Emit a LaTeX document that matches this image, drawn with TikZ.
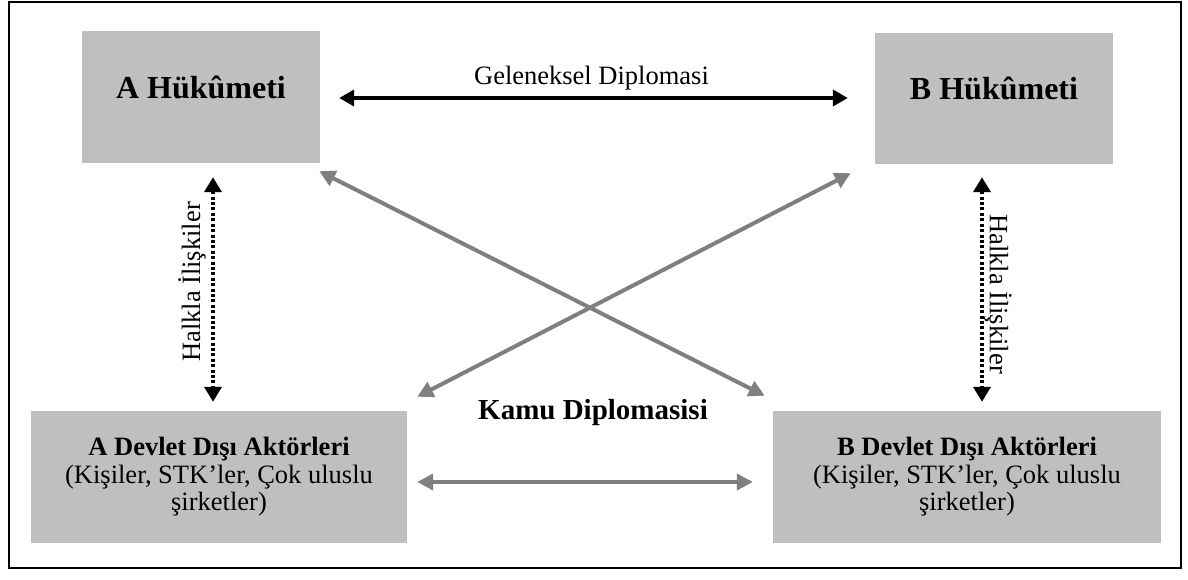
\documentclass[tikz,border=0pt]{standalone}
\usepackage{fontspec}
\setmainfont{Liberation Serif}
\usetikzlibrary{arrows.meta}
\definecolor{kutugri}{HTML}{BFBFBF}
\definecolor{okgri}{HTML}{7F7F7F}

\begin{document}
\begin{tikzpicture}[x=1pt,y=-1pt,
    kutu/.style={fill=kutugri,inner sep=0pt,align=center},
    yazi/.style={font=\fontsize{26.5}{27.5}\selectfont},
    baslik/.style={font=\fontsize{32}{36}\selectfont\bfseries},
    siyahok/.style={line width=4pt,{Triangle[length=15pt,width=16pt]}-{Triangle[length=15pt,width=16pt]}},
    griok/.style={okgri,line width=4pt,{Triangle[length=16pt,width=16pt]}-{Triangle[length=16pt,width=16pt]}},
    noktaok/.style={line width=3.6pt,dash pattern=on 3pt off 2.4pt,{Triangle[length=15pt,width=17pt]}-{Triangle[length=15pt,width=17pt]}}]
            \useasboundingbox (0,0) rectangle (1188,580);
            \draw[line width=2pt] (8.5,2.5) rectangle (1181,568); % cerceve
            % kutular
            \node[kutu,baslik,minimum width=238pt,text height=68pt,text depth=64pt] (ahuk) at (201,97) {A Hükûmeti};
            \node[kutu,baslik,minimum width=238pt,text height=67pt,text depth=64pt] (bhuk) at (994,98.5) {B Hükûmeti};
            \node[kutu,yazi,minimum width=376pt,minimum height=132pt] (adev) at (219,477)
                {\textbf{A Devlet Dışı Aktörleri}\\(Kişiler, STK’ler, Çok uluslu\\şirketler)};
            \node[kutu,yazi,minimum width=388pt,minimum height=132pt] (bdev) at (967,477)
                {\textbf{B Devlet Dışı Aktörleri}\\(Kişiler, STK’ler, Çok uluslu\\şirketler)};
            % oklar
            \draw[siyahok] ([shift={(19,1)}]ahuk.east) -- ([shift={(-27,-0.5)}]bhuk.west);
            \node[yazi,anchor=base] (gelenek) at (591.5,85) {Geleneksel Diplomasi};
            \draw[noktaok] ([shift={(12,14)}]ahuk.south) -- ([shift={(-6,-9)}]adev.north);
            \draw[noktaok] ([shift={(-12,13)}]bhuk.south) -- ([shift={(15,-9)}]bdev.north);
            \node[yazi,rotate=90] (halkA) at (192,282) {Halkla İlişkiler};
            \node[yazi,rotate=-90] (halkB) at (998,294) {Halkla İlişkiler};
            \draw[griok] ([shift={(-1,8)}]ahuk.south east) -- ([shift={(-8,-15)}]bdev.north west);
            \draw[griok] ([shift={(-24,9)}]bhuk.south west) -- ([shift={(10,-14)}]adev.north east);
            \draw[griok] ([shift={(10,5)}]adev.east) -- ([shift={(-20,5)}]bdev.west);
            \node[anchor=base,font=\fontsize{29}{32}\selectfont\bfseries] (kamu) at (593,419) {Kamu Diplomasisi};
\end{tikzpicture}
\end{document}
